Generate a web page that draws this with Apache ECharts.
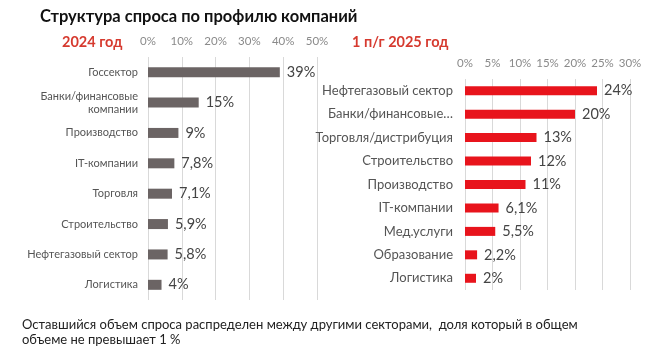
<!DOCTYPE html>
<html><head><meta charset="utf-8">
<script src="https://cdn.jsdelivr.net/npm/echarts@6/dist/echarts.min.js"></script>
<style>html,body{margin:0;padding:0;background:#fff}#c{width:664px;height:352px}</style>
</head><body><div id="c"></div>
<script>
const title = 'Структура спроса по профилю компаний';
const leftTitle = '2024 год';
const rightTitle = '1 п/г 2025 год';
const footnote = 'Оставшийся объем спроса распределен между другими секторами,  доля который в общем\nобъеме не превышает 1 %';

const cats2024 = ['Госсектор','Банки/финансовые\nкомпании','Производство','IT-компании','Торговля','Строительство','Нефтегазовый сектор','Логистика'];
const vals2024 = [39, 15, 9, 7.8, 7.1, 5.9, 5.8, 4];
const labels2024 = ['39%','15%','9%','7,8%','7,1%','5,9%','5,8%','4%'];

const cats2025 = ['Нефтегазовый сектор','Банки/финансовые…','Торговля/дистрибуция','Строительство','Производство','IT-компании','Мед.услуги','Образование','Логистика'];
const vals2025 = [24, 20, 13, 12, 11, 6.1, 5.5, 2.2, 2];
const labels2025 = ['24%','20%','13%','12%','11%','6,1%','5,5%','2,2%','2%'];

const ticks2024 = [0,10,20,30,40,50];
const ticks2025 = [0,5,10,15,20,25,30];

const FONT = 'Lato';
const chart = echarts.init(document.getElementById('c'));
chart.setOption({
  animation:false,
  textStyle:{fontFamily:FONT},
  title:[
    {text:title,left:40,top:8,padding:0,textStyle:{fontFamily:FONT,fontSize:16.5,fontWeight:'bold',color:'#111'}},
    {text:leftTitle,left:62,top:35,padding:0,textStyle:{fontFamily:FONT,fontSize:14.5,fontWeight:'bold',color:'#d63a2f'}},
    {text:rightTitle,left:352,top:35,padding:0,textStyle:{fontFamily:FONT,fontSize:14.5,fontWeight:'bold',color:'#d63a2f'}}
  ],
  graphic:[{type:'text',left:22,top:317,style:{text:footnote,font:'13px '+FONT,fill:'#222',lineHeight:15}}],
  grid:[
    {left:148,top:57,width:169,height:243},
    {left:465,top:79,width:165,height:211}
  ],
  xAxis:[
    {gridIndex:0,type:'value',position:'top',min:ticks2024[0],max:ticks2024[ticks2024.length-1],interval:10,
     axisLine:{show:false},axisTick:{show:false},
     axisLabel:{formatter:'{value}%',color:'#8a8a8a',fontSize:11.5,margin:10},
     splitLine:{lineStyle:{color:'#d9d9d9'}}},
    {gridIndex:1,type:'value',position:'top',min:ticks2025[0],max:ticks2025[ticks2025.length-1],interval:5,
     axisLine:{show:false},axisTick:{show:false},
     axisLabel:{formatter:'{value}%',color:'#8a8a8a',fontSize:11.5,margin:10},
     splitLine:{lineStyle:{color:'#d9d9d9'}}}
  ],
  yAxis:[
    {gridIndex:0,type:'category',data:cats2024,inverse:true,axisLine:{show:false},axisTick:{show:false},
     axisLabel:{color:'#555',fontSize:11,margin:10,lineHeight:13}},
    {gridIndex:1,type:'category',data:cats2025,inverse:true,axisLine:{show:false},axisTick:{show:false},
     axisLabel:{color:'#555',fontSize:13,margin:12}}
  ],
  series:[
    {type:'bar',xAxisIndex:0,yAxisIndex:0,data:vals2024,barWidth:10,itemStyle:{color:'#6b6464'},
     label:{show:true,position:'right',distance:7,fontSize:14.5,color:'#444',formatter:p=>labels2024[p.dataIndex]}},
    {type:'bar',xAxisIndex:1,yAxisIndex:1,data:vals2025,barWidth:9,itemStyle:{color:'#e8141c'},
     label:{show:true,position:'right',distance:7,fontSize:14.5,color:'#444',formatter:p=>labels2025[p.dataIndex]}}
  ]
});
</script></body></html>
